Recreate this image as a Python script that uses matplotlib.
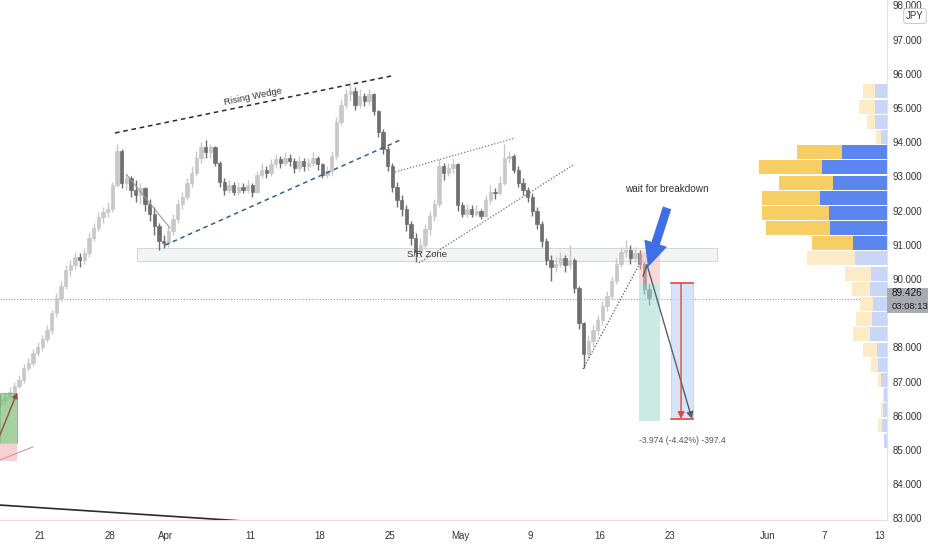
import matplotlib
matplotlib.use('Agg')
import matplotlib.pyplot as plt
from matplotlib.patches import Rectangle, FancyArrowPatch
import numpy as np

plt.rcParams['font.family'] = ['Liberation Sans', 'DejaVu Sans']

# ---------------- data ----------------
first_open = 86.35
closes = [86.45, 86.55, 86.70, 86.88, 87.05, 87.40, 87.55, 87.85, 88.00, 88.25,
          88.50, 89.00, 89.45, 89.80, 90.25, 90.40, 90.65, 90.55, 90.75, 91.20,
          91.50, 91.80, 91.95, 92.05, 92.75, 93.75, 92.80, 92.95, 92.60, 92.45,
          92.65, 92.20, 91.90, 91.55, 91.10, 91.05, 91.40, 91.75, 92.20, 92.40,
          92.80, 93.10, 93.55, 93.85, 93.70, 93.85, 93.40, 92.85, 92.60, 92.75,
          92.55, 92.70, 92.60, 92.75, 92.55, 93.05, 93.20, 93.10, 93.35, 93.50,
          93.40, 93.55, 93.45, 93.25, 93.45, 93.30, 93.40, 93.55, 93.35, 93.05,
          93.15, 93.60, 94.60, 95.10, 95.40, 95.50, 95.10, 95.35, 95.20, 95.40,
          94.90, 94.30, 93.80, 93.30, 92.70, 92.30, 92.05, 91.60, 91.20, 90.80,
          91.00, 91.45, 91.85, 92.20, 93.30, 93.10, 93.25, 93.35, 92.15, 91.90,
          92.05, 91.90, 92.00, 91.85, 92.30, 92.55, 92.50, 92.80, 93.55, 93.60,
          93.20, 92.80, 92.60, 92.40, 92.00, 91.60, 91.10, 90.55, 90.35, 90.45,
          90.60, 90.40, 90.55, 89.75, 88.70, 87.80, 88.20, 88.50, 88.80, 89.20,
          89.50, 89.95, 90.45, 90.80, 90.85, 90.60, 90.75, 90.45, 89.70, 89.43]
highs = [86.60, 86.70, 86.85, 87.00, 87.20, 87.50, 87.70, 87.95, 88.15, 88.35,
         88.65, 89.10, 89.60, 89.95, 90.40, 90.55, 90.80, 90.75, 90.90, 91.35,
         91.65, 91.95, 92.10, 92.25, 92.85, 93.95, 93.80, 93.10, 93.00, 92.90,
         92.80, 92.70, 92.35, 92.10, 91.65, 91.30, 91.55, 91.90, 92.35, 92.55,
         92.95, 93.30, 93.75, 94.00, 94.05, 93.95, 93.90, 93.45, 92.95, 92.90,
         92.85, 92.85, 92.80, 92.90, 92.80, 93.15, 93.40, 93.30, 93.50, 93.65,
         93.60, 93.70, 93.65, 93.55, 93.60, 93.55, 93.55, 93.70, 93.60, 93.40,
         93.30, 93.75, 94.75, 95.25, 95.55, 95.75, 95.60, 95.55, 95.45, 95.55,
         95.45, 94.95, 94.40, 93.90, 93.40, 92.85, 92.45, 92.15, 91.70, 91.35,
         91.20, 91.60, 92.00, 92.35, 93.50, 93.40, 93.40, 93.55, 93.40, 92.25,
         92.20, 92.15, 92.15, 92.05, 92.45, 92.75, 92.65, 93.00, 93.95, 93.75,
         93.65, 93.30, 92.95, 92.70, 92.50, 92.10, 91.70, 91.20, 90.70, 90.65,
         90.80, 90.70, 91.00, 90.60, 89.80, 88.75, 88.35, 88.65, 88.95, 89.35,
         89.65, 90.10, 90.60, 90.95, 91.15, 91.00, 90.95, 90.85, 90.50, 89.85]
lows = [86.25, 86.35, 86.45, 86.60, 86.80, 86.95, 87.30, 87.45, 87.75, 87.90,
        88.15, 88.40, 88.90, 89.35, 89.70, 90.10, 90.30, 90.35, 90.45, 90.65,
        91.10, 91.40, 91.65, 91.80, 91.95, 92.70, 92.65, 92.60, 92.40, 92.25,
        92.20, 92.00, 91.70, 91.30, 90.85, 90.90, 90.95, 91.30, 91.65, 92.05,
        92.30, 92.70, 93.00, 93.40, 93.55, 93.55, 93.30, 92.70, 92.45, 92.50,
        92.45, 92.45, 92.50, 92.50, 92.40, 92.50, 92.95, 92.95, 93.00, 93.25,
        93.25, 93.30, 93.30, 93.10, 93.15, 93.15, 93.20, 93.30, 93.20, 92.95,
        92.95, 93.05, 93.50, 94.50, 95.00, 95.20, 94.95, 95.00, 95.05, 95.10,
        94.80, 94.15, 93.65, 93.15, 92.55, 92.10, 91.85, 91.40, 91.00, 90.50,
        90.65, 90.90, 91.30, 91.70, 92.10, 92.90, 93.00, 93.10, 92.00, 91.80,
        91.80, 91.80, 91.85, 91.75, 91.80, 92.20, 92.35, 92.45, 92.75, 93.40,
        93.10, 92.70, 92.45, 92.25, 91.85, 91.45, 90.95, 90.40, 89.95, 90.20,
        90.35, 90.20, 90.30, 89.60, 88.55, 87.40, 87.65, 88.05, 88.35, 88.65,
        89.05, 89.40, 89.85, 90.35, 90.65, 90.45, 90.50, 90.30, 89.55, 89.25]
start_day = -2.833          # trading-day position of the first candle
candles_per_day = 3

tick_days = [0, 5, 9, 15, 20, 25, 30, 35, 40, 45, 52, 56, 60]
tick_labels = ['21', '28', 'Apr', '11', '18', '25', 'May', '9', '16', '23', 'Jun', '7', '13']
price_ticks = [83, 84, 85, 86, 87, 88, 90, 91, 92, 93, 94, 95, 96, 97, 98]
last_price = 89.426
countdown = '03:08:13'

# volume profile rows (bottom -> top), widths in px
vp_bottom = 85.05
vp_step = 0.444
vp_up = [3, 5, 4, 3, 6, 9, 10, 17, 15, 14, 17, 16, 32, 34, 57, 58, 67, 54, 65, 45, 6, 12, 12, 12]
vp_down = [0, 4, 2, 1, 3, 7, 14, 17, 16, 13, 18, 26, 48, 41, 64, 67, 58, 54, 63, 45, 5, 8, 16, 12]
vp_value_area = list(range(13, 20))

# drawings (day, price)
wedge_upper = [(5.36, 94.27), (25.14, 95.94)]
wedge_lower = [(8.93, 90.99), (25.71, 94.06)]
down_line = [(6.21, 93.04), (9.29, 91.49)]
channel_upper = [(25.14, 93.10), (33.93, 94.12)]
channel_lower = [(27.07, 90.47), (38.07, 93.33)]
rise_line = [(38.79, 87.37), (42.86, 90.47)]
bottom_line = [(-2.857, 83.39), (14.64, 82.92)]
sr_zone = (6.93, 48.36, 90.526, 90.906)
short_pos = dict(x0=42.79, x1=44.29, stop=90.79, entry=89.88, target=85.85)
short_path = [(43.07, 90.09), (43.36, 90.41), (46.57, 85.91)]
range_box = dict(x0=45.07, x1=46.64, top=89.88, bottom=85.91, xm=45.79)
long_pos = dict(x0=-2.857, x1=-1.643, stop=84.68, entry=85.20, target=86.67)

# ---------------- figure ----------------
W, H = 932, 550
fig = plt.figure(figsize=(W / 100, H / 100), dpi=100)
ax = fig.add_axes([0, 30 / H, 887 / W, 520 / H])
ax.set_xlim(-2.857, 60.5)
ax.set_ylim(82.953, 98.158)

n = len(closes)
xs = np.array([start_day + k / candles_per_day for k in range(n)])
opens = np.array([first_open] + closes[:-1])
c = np.array(closes)
hi = np.array(highs)
lo = np.array(lows)
up = c >= opens
upc, dnc = '#c8c8c8', '#6f6f6f'
cols = np.where(up, upc, dnc)
ax.vlines(xs, lo, hi, colors=cols, lw=1, zorder=3)
bot = np.minimum(opens, c)
hgt = np.maximum(np.abs(c - opens), 0.03)
ax.bar(xs, hgt, bottom=bot, width=0.22, color=cols, edgecolor=cols, lw=0.5, zorder=4)

# S/R zone
ax.add_patch(Rectangle((sr_zone[0], sr_zone[2]), sr_zone[1] - sr_zone[0], sr_zone[3] - sr_zone[2],
                       facecolor='#eceef1', edgecolor='#bfc1c5', lw=0.8, alpha=0.6, zorder=2))
ax.text(27.64, 90.73, 'S/R Zone', fontsize=6.8, color='#3a3a3a', ha='center', va='center', zorder=6)

# trend lines
def seg(p, **kw):
    ax.plot([p[0][0], p[1][0]], [p[0][1], p[1][1]], **kw)

seg(wedge_upper, color='#2b2b2b', lw=1.1, ls=(0, (3, 2.5)), zorder=5)
seg(wedge_lower, color='#2f5f9e', lw=1.1, ls=(0, (3, 2.5)), zorder=5)
seg(down_line, color='#9a9a9a', lw=0.8, zorder=5)
seg(channel_upper, color='#5a7fb8', lw=0.9, ls=(0, (1, 1.5)), zorder=5)
seg(channel_lower, color='#6a6a6a', lw=0.9, ls=(0, (1, 1.5)), zorder=5)
seg(rise_line, color='#555555', lw=0.9, ls=(0, (1, 1.5)), zorder=5)
seg(bottom_line, color='#2b2b2b', lw=1.2, zorder=5)
ax.text(15.21, 95.32, 'Rising Wedge', fontsize=6.8, color='#333333', ha='center', va='center',
        rotation=11.6, zorder=6)

# current price line
ax.axhline(last_price, color='#9a9a9a', lw=0.8, ls=(0, (1, 1.5)), zorder=1)

# short position tool
sp = short_pos
ax.add_patch(Rectangle((sp['x0'], sp['entry']), sp['x1'] - sp['x0'], sp['stop'] - sp['entry'],
                       facecolor='#f6b8b8', alpha=0.55, lw=0, zorder=6))
ax.add_patch(Rectangle((sp['x0'], sp['target']), sp['x1'] - sp['x0'], sp['entry'] - sp['target'],
                       facecolor='#a9dcd3', alpha=0.6, lw=0, zorder=6))
ax.plot([p[0] for p in short_path[:2]], [p[1] for p in short_path[:2]], color='#56606e', lw=1, zorder=7)
ax.add_patch(FancyArrowPatch(short_path[1], short_path[2], arrowstyle='-|>,head_length=4,head_width=2',
                             color='#56606e', lw=1, zorder=7, shrinkA=0, shrinkB=0))

# price range box
rb = range_box
ax.add_patch(Rectangle((rb['x0'], rb['bottom']), rb['x1'] - rb['x0'], rb['top'] - rb['bottom'],
                       facecolor='#cfe0f6', edgecolor='#b9cfee', lw=0.6, alpha=0.85, zorder=5))
ax.plot([rb['x0'], rb['x1']], [rb['top'], rb['top']], color='#e04848', lw=1.2, zorder=7)
ax.plot([rb['x0'], rb['x1']], [rb['bottom'], rb['bottom']], color='#e04848', lw=1.2, zorder=7)
ax.add_patch(FancyArrowPatch((rb['xm'], rb['top']), (rb['xm'], rb['bottom']),
                             arrowstyle='-|>,head_length=4,head_width=2', color='#e04848', lw=1,
                             zorder=7, shrinkA=0, shrinkB=0))
ax.text(45.86, 85.29, '-3.974 (-4.42%) -397.4', fontsize=6.2, color='#555555', ha='center', va='center', zorder=8)

# big blue arrow + note
ax.add_patch(FancyArrowPatch((44.79, 92.08), (43.43, 90.35),
                             arrowstyle='simple,head_length=2.0,head_width=1.9,tail_width=0.7',
                             mutation_scale=9, color='#3f6fe6', lw=0, zorder=9, shrinkA=0, shrinkB=0))
ax.text(44.79, 92.63, 'wait for breakdown', fontsize=7.2, color='#333333', ha='center', va='center', zorder=9)

# long position tool at far left
lp = long_pos
ax.add_patch(Rectangle((lp['x0'], lp['entry']), lp['x1'] - lp['x0'], lp['target'] - lp['entry'],
                       facecolor='#7fbf78', alpha=0.7, edgecolor='#5f9f58', lw=0.6, zorder=6))
ax.add_patch(Rectangle((lp['x0'], lp['stop']), lp['x1'] - lp['x0'], lp['entry'] - lp['stop'],
                       facecolor='#f7c4c8', alpha=0.8, lw=0, zorder=6))
ax.add_patch(FancyArrowPatch((-2.857, 85.44), (-1.643, 86.67), arrowstyle='-|>,head_length=3,head_width=1.6',
                             color='#9a4a3c', lw=1, zorder=7, shrinkA=0, shrinkB=0))
ax.plot([-2.857, -0.5], [84.71, 85.09], color='#c79a9a', lw=0.8, zorder=7)

# axes styling
for s in ['top', 'left']:
    ax.spines[s].set_visible(False)
ax.spines['right'].set_color('#e0e3eb')
ax.spines['bottom'].set_color('#f4d9dc')
ax.yaxis.tick_right()
ax.set_yticks(price_ticks)
ax.set_yticklabels([f'{v:.3f}' for v in price_ticks])
ax.set_xticks(tick_days)
ax.set_xticklabels(tick_labels)
ax.tick_params(axis='y', length=0, pad=4, labelsize=7, labelcolor='#333333')
ax.tick_params(axis='x', length=0, pad=8, labelsize=7, labelcolor='#333333')
ax.set_facecolor('white')

# volume profile
vax = ax.twiny()
vax.set_xlim(887, 0)
vax.set_ylim(ax.get_ylim())
for i in range(len(vp_up)):
    yc = vp_bottom + (i + 0.5) * vp_step
    bold = i in vp_value_area
    bc = '#5b86f0' if bold else '#c9d6f8'
    yc_col = '#f7cd66' if bold else '#fcebc6'
    vax.barh(yc, vp_up[i], left=0, height=vp_step * 0.92, color=bc, lw=0, zorder=3)
    vax.barh(yc, vp_down[i], left=vp_up[i], height=vp_step * 0.92, color=yc_col, lw=0, zorder=3)
vax.set_xticks([])
for s in vax.spines.values():
    s.set_visible(False)

# price label and currency box
fig.patches.append(Rectangle((887 / W, 1 - 313 / H), 41 / W, 25 / H, transform=fig.transFigure,
                             facecolor='#a8abb2', edgecolor='none', zorder=10))
fig.text(892 / W, 1 - 293.5 / H, f'{last_price:.3f}', fontsize=7.2, color='#1e1e1e', va='center', zorder=11)
fig.text(892 / W, 1 - 306.5 / H, countdown, fontsize=6.8, color='#1e1e1e', va='center', zorder=11)
fig.text(915 / W, 1 - 16 / H, 'JPY', fontsize=7, color='#333333', ha='center', va='center', zorder=11,
         bbox=dict(boxstyle='round,pad=0.25', fc='white', ec='#c8c8c8', lw=0.7))

fig.savefig('out.png', dpi=100, facecolor='white')
